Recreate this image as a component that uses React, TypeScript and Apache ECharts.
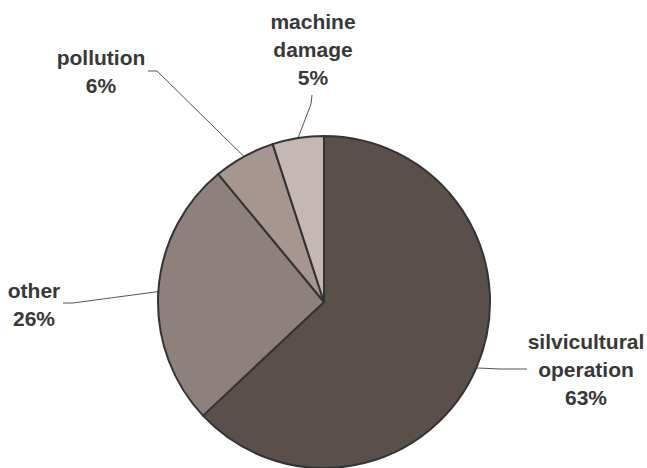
import React, { useEffect, useRef } from "react";
import * as echarts from "echarts";

const CATEGORIES = ["silvicultural operation", "other", "pollution", "machine damage"];
const VALUES = [63, 26, 6, 5];
const COLORS = ["#5a4f4b", "#8e807c", "#a7958f", "#c4b7b4"];

// label anchor positions (centre of label block) and leader line bend/end points
const LABEL_POS: number[][] = [
  [586, 369],
  [34, 304],
  [101, 71],
  [313, 49],
];
const LINE_PTS: number[][][] = [
  [[500, 369], [527, 369]],
  [[73, 303], [63, 303]],
  [[157, 71], [148, 71]],
  [[311, 104], [312, 95]],
];

export default function App() {
  const ref = useRef<HTMLDivElement>(null);
  useEffect(() => {
    if (!ref.current) return;
    const chart = echarts.init(ref.current, null, { renderer: "svg" });
    chart.setOption({
      animation: false,
      backgroundColor: "#ffffff",
      series: [
        {
          type: "pie",
          center: [324, 302],
          radius: 166,
          startAngle: 90,
          clockwise: true,
          avoidLabelOverlap: false,
          data: CATEGORIES.map((name, i) => ({
            name,
            value: VALUES[i],
            itemStyle: { color: COLORS[i] },
          })),
          itemStyle: { borderColor: "#333333", borderWidth: 2 },
          label: {
            show: true,
            position: "outside",
            formatter: (p: any) => `${p.name.replace(" ", "\n")}\n${p.value}%`,
            fontFamily: "Liberation Sans, Arial, sans-serif",
            fontWeight: "bold",
            fontSize: 21,
            lineHeight: 28,
            color: "#383838",
            align: "center",
          },
          labelLine: {
            show: true,
            lineStyle: { color: "#555555", width: 1 },
          },
          labelLayout: (p: any) => {
            const pos = LABEL_POS[p.dataIndex];
            const start = p.labelLinePoints ? p.labelLinePoints[0] : null;
            const pts = LINE_PTS[p.dataIndex];
            const res: any = {
              x: pos[0],
              y: pos[1],
              align: "center",
              verticalAlign: "middle",
            };
            if (start) res.labelLinePoints = [start, pts[0], pts[1]];
            return res;
          },
        },
      ],
    });
    return () => chart.dispose();
  }, []);
  return (
    <div
      ref={ref}
      style={{ position: "fixed", left: 0, top: 0, width: 647, height: 468 }}
    />
  );
}
